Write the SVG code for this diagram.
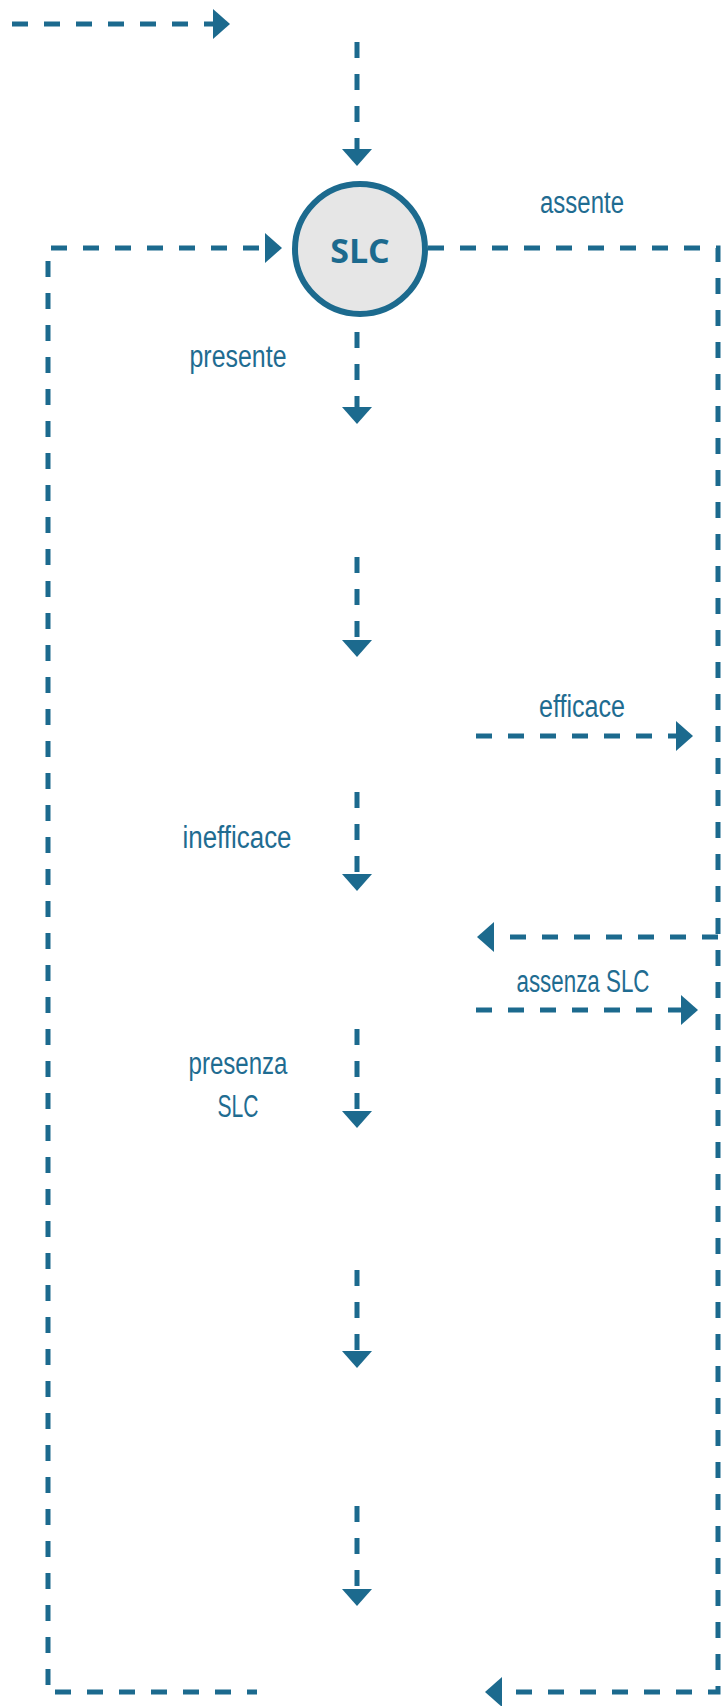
<svg xmlns="http://www.w3.org/2000/svg" width="722" height="1706" viewBox="0 0 722 1706">
<style>
.c{fill:none;stroke:#1c6a8e;stroke-width:5;stroke-dasharray:16 16;marker-end:url(#ah)}
.t{font-family:"Liberation Sans",Arial,sans-serif;font-size:31px;fill:#1f6c91;text-anchor:middle}
.b{font-family:"Open Sans","DejaVu Sans",sans-serif;font-weight:bold;font-size:34px;fill:#1c6a8e;text-anchor:middle}
</style>
<defs>
<marker id="ah" markerUnits="userSpaceOnUse" viewBox="0 0 17 30" refX="0" refY="15" markerWidth="17" markerHeight="30" orient="auto">
<path d="M0,0 L17,15 L0,30 z" fill="#1c6a8e"/>
</marker>
</defs>
<rect width="722" height="1706" fill="#ffffff"/>
<g id="connectors">
<path class="c" d="M12,24 H213"/>
<path class="c" d="M357,42 V149"/>
<path class="c" d="M48,1692 V248 H265" style="stroke-dasharray:16 16;stroke-dashoffset:-7"/>
<path class="c" d="M428,248 H718 V1692 H502"/>
<path class="c" d="M357,332 V407"/>
<path class="c" d="M357,557 V640"/>
<path class="c" d="M357,792 V874"/>
<path class="c" d="M357,1029 V1111"/>
<path class="c" d="M357,1270 V1351"/>
<path class="c" d="M357,1506 V1589"/>
<path class="c" d="M476,736 H676"/>
<path class="c" d="M718,937 H494"/>
<path class="c" d="M476,1010 H681"/>
<path d="M48,1692 H257" fill="none" stroke="#1c6a8e" stroke-width="5" stroke-dasharray="16 16" stroke-dashoffset="-7"/>
</g>
<g id="node-slc">
<circle cx="360" cy="249" r="65" fill="#e6e6e6" stroke="#1c6a8e" stroke-width="6"/>
<text class="b" x="360" y="263">SLC</text>
</g>
<g id="labels">
<text class="t" x="582" y="213" textLength="84" lengthAdjust="spacingAndGlyphs">assente</text>
<text class="t" x="238" y="367" textLength="97" lengthAdjust="spacingAndGlyphs">presente</text>
<text class="t" x="582" y="717" textLength="86" lengthAdjust="spacingAndGlyphs">efficace</text>
<text class="t" x="237" y="848" textLength="109" lengthAdjust="spacingAndGlyphs">inefficace</text>
<text class="t" x="583" y="992" textLength="133" lengthAdjust="spacingAndGlyphs">assenza SLC</text>
<text class="t" x="238" y="1074" textLength="99" lengthAdjust="spacingAndGlyphs">presenza</text>
<text class="t" x="238" y="1117" textLength="41" lengthAdjust="spacingAndGlyphs">SLC</text>
</g>
</svg>
